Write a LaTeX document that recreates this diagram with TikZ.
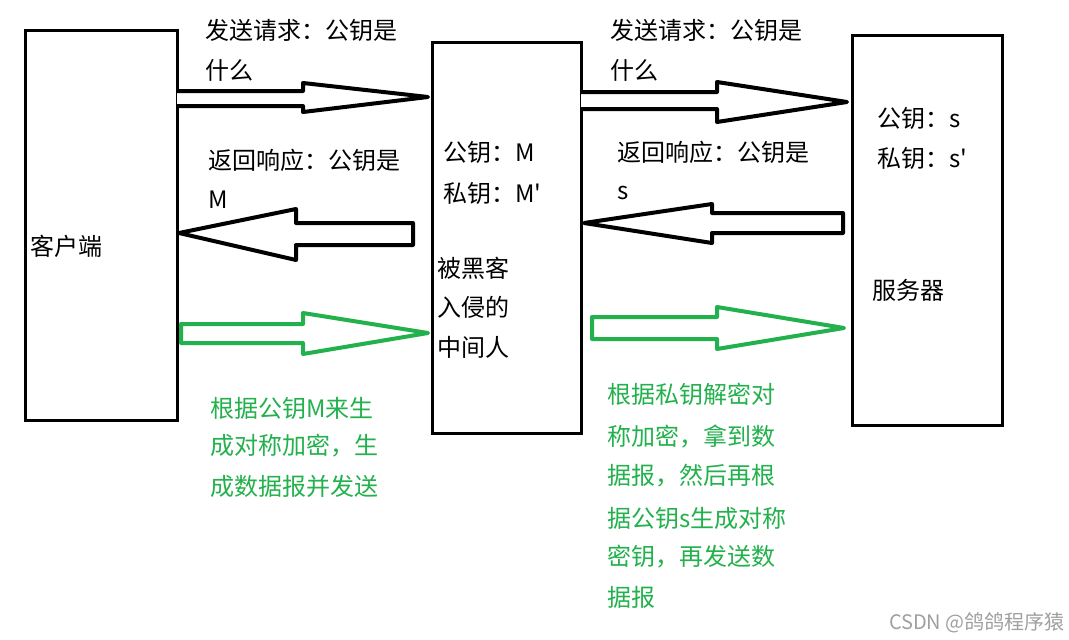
\documentclass[tikz,border=0pt]{standalone}
\usepackage{fontspec}
\setmainfont{Noto Sans CJK SC}[Ligatures=TeXOff]
\definecolor{pgreen}{RGB}{34,177,76}
\definecolor{wm}{RGB}{160,160,160}
\begin{document}
\begin{tikzpicture}[x=1pt,y=-1pt,
  box/.style={draw=black,line width=3pt,minimum width=#1,inner sep=0pt},
  lbl/.style={anchor=west,inner sep=0pt,font=\fontsize{24}{28}\selectfont},
  glbl/.style={lbl,text=pgreen},
  barrow/.style={draw=black,line width=4pt,line join=round,fill=white},
  garrow/.style={draw=pgreen,line width=4pt,line join=round,fill=white}]
\useasboundingbox[fill=white] (0,0) rectangle (1069,640);
% boxes
\node[box=152pt,minimum height=390pt] (client) at (101,225) {};
\node[box=149pt,minimum height=391pt] (mid) at (506.5,237.5) {};
\node[box=150pt,minimum height=390pt] (server) at (927,230) {};
% arrows client <-> mid
\draw[barrow] (177,91) -- (303,91) -- (303,83) -- (428,97) -- (303,112) -- (303,106) -- (177,106);
\draw[barrow] (413,223) -- (296,223) -- (296,209) -- (179,233) -- (296,260) -- (296,245) -- (413,245) -- cycle;
\draw[garrow] (181,324) -- (303,324) -- (303,313) -- (428,333) -- (303,354) -- (303,343) -- (181,343) -- cycle;
% arrows mid <-> server
\draw[barrow] (581,92) -- (717,92) -- (717,82) -- (847,102) -- (717,122) -- (717,109) -- (581,109);
\draw[barrow] (843,213) -- (712,213) -- (712,204) -- (584,223) -- (712,243) -- (712,233) -- (843,233) -- cycle;
\draw[garrow] (592,317) -- (717,317) -- (717,307) -- (844,328) -- (717,349) -- (717,339) -- (592,339) -- cycle;
% labels
\node[lbl] (t1a) at (205,30) {发送请求：公钥是};
\node[lbl] (t1b) at (205,70) {什么};
\node[lbl] (t2a) at (208,160) {返回响应：公钥是};
\node[lbl] (t2b) at (208,200) {M};
\node[lbl] (c) at (30,246) {客户端};
\node[lbl] (m1) at (443,152) {公钥：M};
\node[lbl] (m2) at (443,193) {私钥：M'};
\node[lbl] (m3) at (437,268) {被黑客};
\node[lbl] (m4) at (437,307) {入侵的};
\node[lbl] (m5) at (437,347) {中间人};
\node[lbl] (t3a) at (610,30) {发送请求：公钥是};
\node[lbl] (t3b) at (610,70) {什么};
\node[lbl] (t4a) at (617,152) {返回响应：公钥是};
\node[lbl] (t4b) at (617,193) {s};
\node[lbl] (s1) at (877,118) {公钥：s};
\node[lbl] (s2) at (877,158) {私钥：s'};
\node[lbl] (s3) at (872,290) {服务器};
\node[glbl] (g1) at (210,408) {根据公钥M来生};
\node[glbl] (g2) at (210,446) {成对称加密，生};
\node[glbl] (g3) at (210,486) {成数据报并发送};
\node[glbl] (h1) at (607,394) {根据私钥解密对};
\node[glbl] (h2) at (607,436) {称加密，拿到数};
\node[glbl] (h3) at (607,476) {据报，然后再根};
\node[glbl] (h4) at (607,518) {据公钥s生成对称};
\node[glbl] (h5) at (607,557) {密钥，再发送数};
\node[glbl] (h6) at (607,597) {据报};
\node[anchor=east,inner sep=0pt,text=wm,font=\fontsize{20}{24}\selectfont] (w) at (1065,623) {CSDN @鸽鸽程序猿};
\end{tikzpicture}
\end{document}
